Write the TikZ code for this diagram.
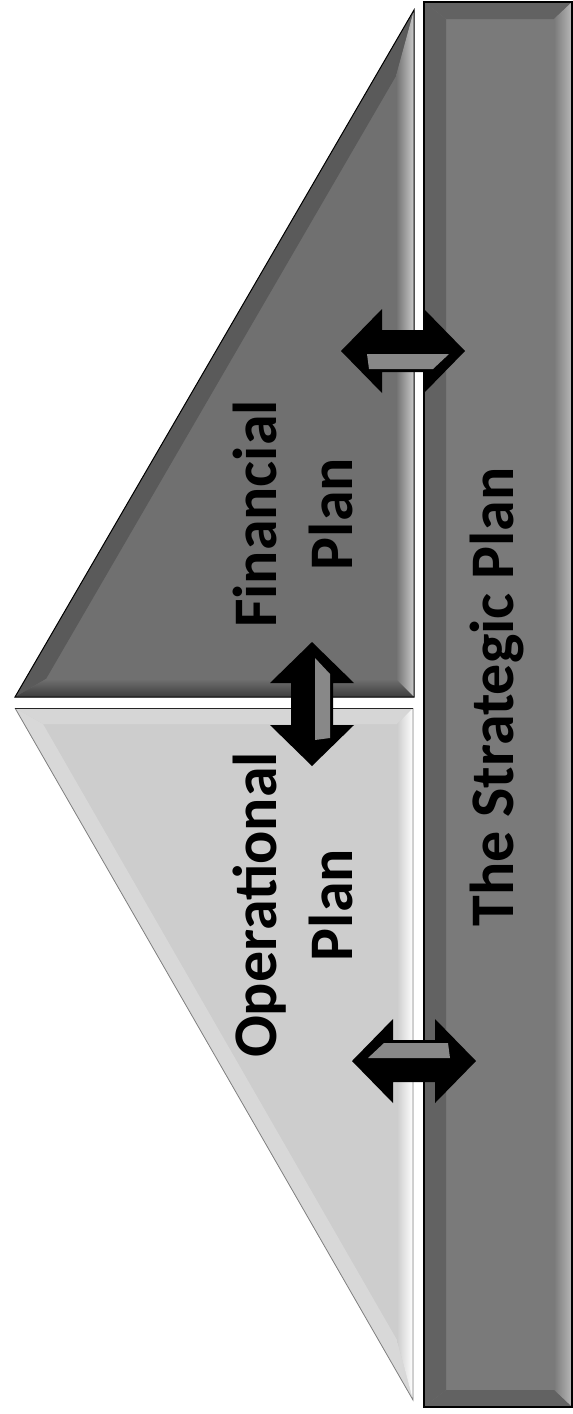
\documentclass[tikz,border=0pt]{standalone}
\usepackage{fontspec}
\setmainfont{Carlito}

\definecolor{barface}{HTML}{7A7A7A}
\definecolor{bardark}{HTML}{626262}
\definecolor{barshine}{HTML}{B8B8B8}
\definecolor{darkface}{HTML}{707070}
\definecolor{darkedge}{HTML}{5A5A5A}
\definecolor{darkshine}{HTML}{CACACA}
\definecolor{darkbottom}{HTML}{3C3C3C}
\definecolor{lightface}{HTML}{CDCDCD}
\definecolor{lighttop}{HTML}{D6D6D6}
\definecolor{lightedge}{HTML}{D8D8D8}
\definecolor{arrowgray}{HTML}{888888}

% double headed block arrow: x, y, angle
\newcommand{\twoway}[3]{%
  \begin{scope}[shift={(#1,#2)}, rotate=#3]
    \fill[black] (-62,0) -- (-21,-42) -- (-21,-21) -- (21,-21) -- (21,-42) -- (62,0)
      -- (21,42) -- (21,21) -- (-21,21) -- (-21,42) -- cycle;
    \fill[arrowgray] (-36,3) -- (46,3) -- (30,18) -- (-34,18) -- cycle;
  \end{scope}}

\begin{document}
\begin{tikzpicture}[x=1pt,y=-1pt]
    \tikzstyle{plantext}=[font=\bfseries\fontsize{62}{76}\selectfont, text=black, inner sep=0pt, align=center]
    \useasboundingbox (0,0) rectangle (573,1414);

    % the strategic plan bar
    \fill[barface] (424,2) rectangle (572,1407);
    \fill[bardark] (424,2) -- (572,2) -- (554,19) -- (446,19) -- cycle;
    \fill[bardark] (424,2) -- (446,19) -- (446,1390) -- (424,1407) -- cycle;
    \shade[left color=barface, right color=barshine] (572,2) -- (554,19) -- (554,1390) -- (572,1407) -- cycle;
    \fill[bardark] (424,1407) -- (446,1390) -- (554,1390) -- (572,1407) -- cycle;
    \draw[black, line width=1.2] (424,2) rectangle (572,1407);

    % financial plan triangle
    \fill[darkface] (414,10) -- (414,697) -- (15,697) -- cycle;
    \fill[darkedge] (15,697) -- (414,10) -- (396,76) -- (46,679) -- cycle;
    \shade[left color=darkface, right color=darkshine] (414,10) -- (414,697) -- (396,679) -- (396,76) -- cycle;
    \shade[top color=darkface, bottom color=darkbottom] (15,697) -- (414,697) -- (396,679) -- (46,679) -- cycle;
    \draw[black, line width=1] (414,10) -- (414,697) -- (15,697) -- cycle;

    % operational plan triangle
    \fill[lightface] (15,708) -- (413,708) -- (413,1400) -- cycle;
    \fill[lighttop] (15,708) -- (413,708) -- (397,724) -- (43,724) -- cycle;
    \fill[lightedge] (15,708) -- (43,724) -- (397,1340) -- (413,1400) -- cycle;
    \shade[left color=lightface, right color=white] (413,708) -- (413,1400) -- (397,1340) -- (397,724) -- cycle;
    \draw[gray, line width=0.8] (413,708) -- (413,1400) -- (15,708);
    \draw[black!85, line width=1] (15,708) -- (413,708);

    % arrows
    \twoway{403}{351}{0}
    \twoway{312}{704}{90}
    \twoway{414}{1061}{180}

    % texts
    \node[plantext, rotate=90] (financial) at (293,514) {Financial\\Plan};
    \node[plantext, rotate=90] (operational) at (293,905) {Operational\\Plan};
    \node[plantext, rotate=90, anchor=base] (strategic) at (513,697) {The Strategic Plan};
\end{tikzpicture}
\end{document}
